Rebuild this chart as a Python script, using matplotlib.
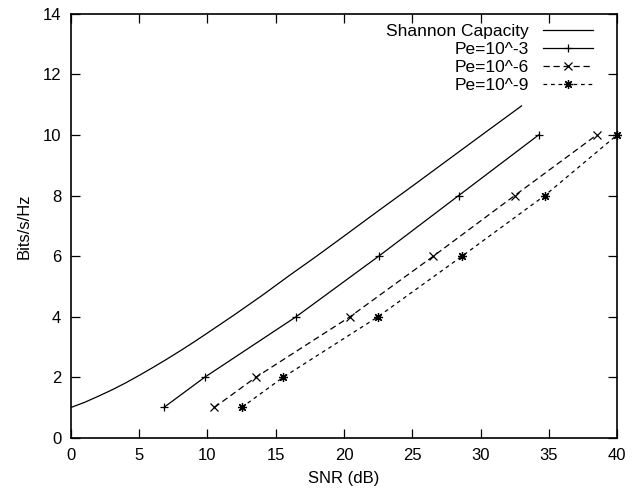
import matplotlib
matplotlib.use("Agg")
import matplotlib.pyplot as plt

plt.rcParams['font.family'] = ['Liberation Sans', 'DejaVu Sans']

# Shannon capacity curve
snr_shannon = [0, 1, 2, 3, 4, 5, 6, 7, 8, 9, 10, 12, 14, 16, 18, 20, 22.5, 25, 27.5, 30, 33]
cap_shannon = [1.0, 1.17, 1.37, 1.58, 1.81, 2.06, 2.32, 2.59, 2.87, 3.16, 3.46, 4.07, 4.70,
               5.36, 6.0, 6.66, 7.49, 8.31, 9.14, 9.97, 10.96]

# required SNR for each spectral efficiency
bits = [1, 2, 4, 6, 8, 10]
snr_pe3 = [6.8, 9.8, 16.5, 22.55, 28.4, 34.25]
snr_pe6 = [10.5, 13.55, 20.45, 26.55, 32.5, 38.5]
snr_pe9 = [12.5, 15.55, 22.5, 28.65, 34.7, 40.0]

fig = plt.figure(figsize=(6.33, 4.93), dpi=100)
ax = fig.add_axes([0.112, 0.112, 0.863, 0.86])

ax.plot(snr_shannon, cap_shannon, color='black', lw=0.9, label='Shannon Capacity')
ax.plot(snr_pe3, bits, color='black', lw=0.9, marker='+', ms=6, mew=0.9, label='Pe=10^-3')
ax.plot(snr_pe6, bits, color='black', lw=0.9, ls=(0, (5, 3)), marker='x', ms=5.5, mew=0.9, label='Pe=10^-6')
ax.plot(snr_pe9, bits, color='black', lw=0.9, ls=(0, (3, 3)), marker=(8, 2, 0), ms=6.5, mew=0.9,
        label='Pe=10^-9', clip_on=False)

ax.set_xlim(0, 40)
ax.set_ylim(0, 14)
ax.set_xticks(range(0, 41, 5))
ax.set_yticks(range(0, 15, 2))
ax.tick_params(direction='in', length=6.5, width=0.9, top=True, right=True, labelsize=12, pad=7)
for s in ax.spines.values():
    s.set_linewidth(1.2)

ax.set_xlabel('SNR (dB)', fontsize=12, labelpad=6)
ax.set_ylabel('Bits/s/Hz', fontsize=12, labelpad=8)

ax.legend(loc='upper right', bbox_to_anchor=(0.962, 0.985), frameon=False, markerfirst=False,
          fontsize=12.5, handlelength=2.9, labelspacing=0.17, borderaxespad=0, handletextpad=0.8,
          borderpad=0.2)

fig.savefig('out.png', dpi=100)
